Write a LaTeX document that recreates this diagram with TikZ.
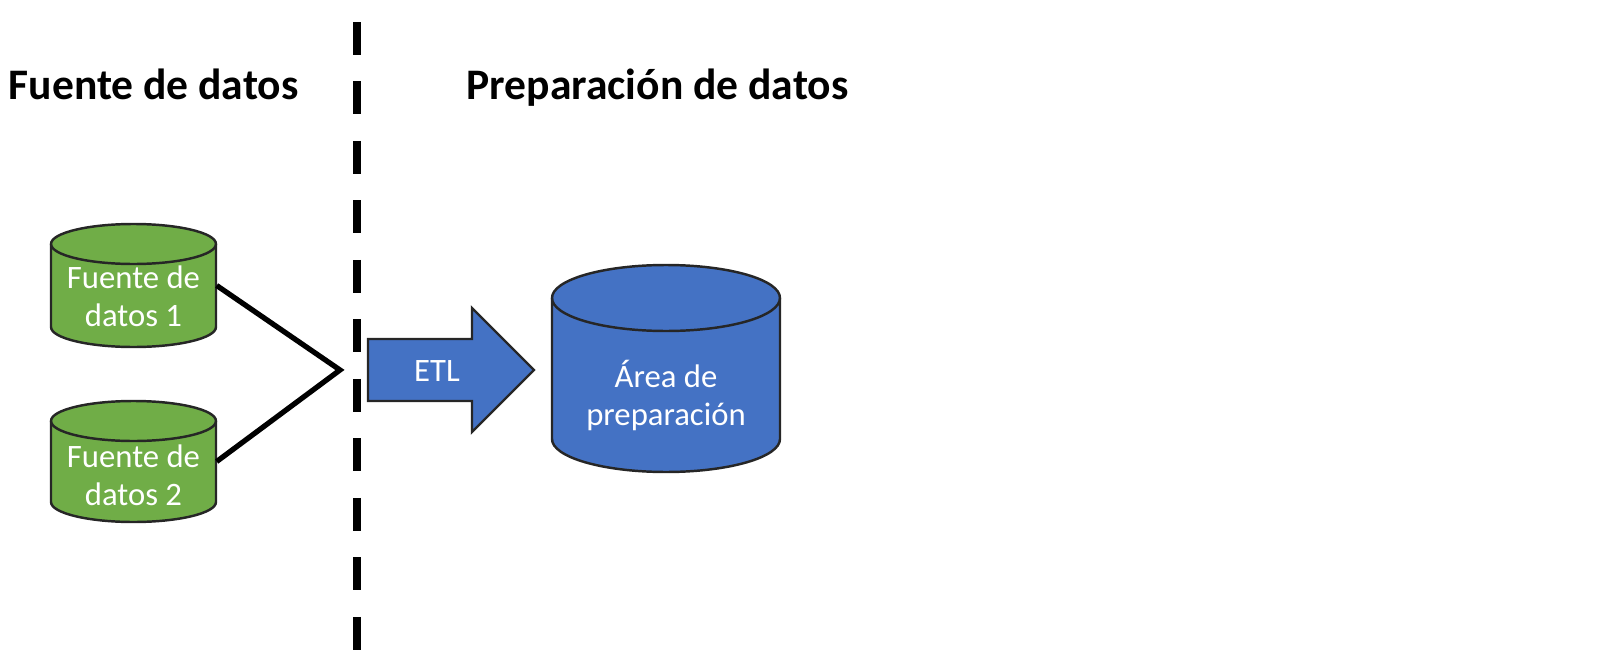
\documentclass[tikz,border=0pt]{standalone}
\usepackage{fontspec}
\setmainfont{Carlito}
\definecolor{srcgreen}{HTML}{70AD47}
\definecolor{stageblue}{HTML}{4472C4}

\begin{document}
\begin{tikzpicture}[x=0.1mm, y=-0.1mm,
	dbline/.style={draw=black!85, line width=0.7pt},
	dbtext/.style={text=white, align=center, inner sep=0pt, font=\fontsize{9.3}{10.8}\selectfont},
	heading/.style={font=\fontsize{12.4}{15}\bfseries\selectfont, inner sep=0pt}]
	
	\useasboundingbox (0,0) rectangle (1600,672);
	
	% source / staging
	\draw [line width=2.3pt, dash pattern=on 3.3mm off 2.65mm] (357,22) -- (357,650);
	\node [heading, anchor=base west] (srchead) at (8,99) {Fuente de datos};
	\node [heading, anchor=base west] (stghead) at (466,99) {Preparación de datos};
	
	% data source 1
	\filldraw [dbline, fill=srcgreen] (51,244) -- (51,327) arc [start angle=180, end angle=360, x radius=8.25mm, y radius=2mm] -- (216,244) arc [start angle=0, end angle=180, x radius=8.25mm, y radius=2mm] -- cycle;
	\draw [dbline] (51,244) arc [start angle=180, end angle=360, x radius=8.25mm, y radius=2mm];
	\node [minimum width=16.5mm, minimum height=12.3mm] (src1) at (133.5,285.5) {};
	\node [dbtext] (src1txt) at ([yshift=-1.1mm]src1.center) {Fuente de\\datos 1};
	
	% data source 2
	\filldraw [dbline, fill=srcgreen] (51,421) -- (51,502) arc [start angle=180, end angle=360, x radius=8.25mm, y radius=2mm] -- (216,421) arc [start angle=0, end angle=180, x radius=8.25mm, y radius=2mm] -- cycle;
	\draw [dbline] (51,421) arc [start angle=180, end angle=360, x radius=8.25mm, y radius=2mm];
	\node [minimum width=16.5mm, minimum height=12.1mm] (src2) at (133.5,461.5) {};
	\node [dbtext] (src2txt) at ([yshift=-1.4mm]src2.center) {Fuente de\\datos 2};
	
	% join
	\coordinate (join) at (340,370);
	\draw [line width=1.5pt] (src1.east) -- (join) -- (src2.east);
	
	% etl
	\filldraw [dbline, fill=stageblue] (368,339) -- (472,339) -- (472,308) -- (534,370) -- (472,432) -- (472,401) -- (368,401) -- cycle;
	\node [dbtext] (etl) at (437,371) {ETL};
	
	% staging area
	\filldraw [dbline, fill=stageblue] (552,298) -- (552,439) arc [start angle=180, end angle=360, x radius=11.4mm, y radius=3.3mm] -- (780,298) arc [start angle=0, end angle=180, x radius=11.4mm, y radius=3.3mm] -- cycle;
	\draw [dbline] (552,298) arc [start angle=180, end angle=360, x radius=11.4mm, y radius=3.3mm];
	\node [minimum width=22.8mm, minimum height=20.7mm] (stage) at (666,368.5) {};
	\node [dbtext] (stagetxt) at ([yshift=-2.7mm]stage.center) {Área de\\preparación};
	
\end{tikzpicture}
\end{document}
